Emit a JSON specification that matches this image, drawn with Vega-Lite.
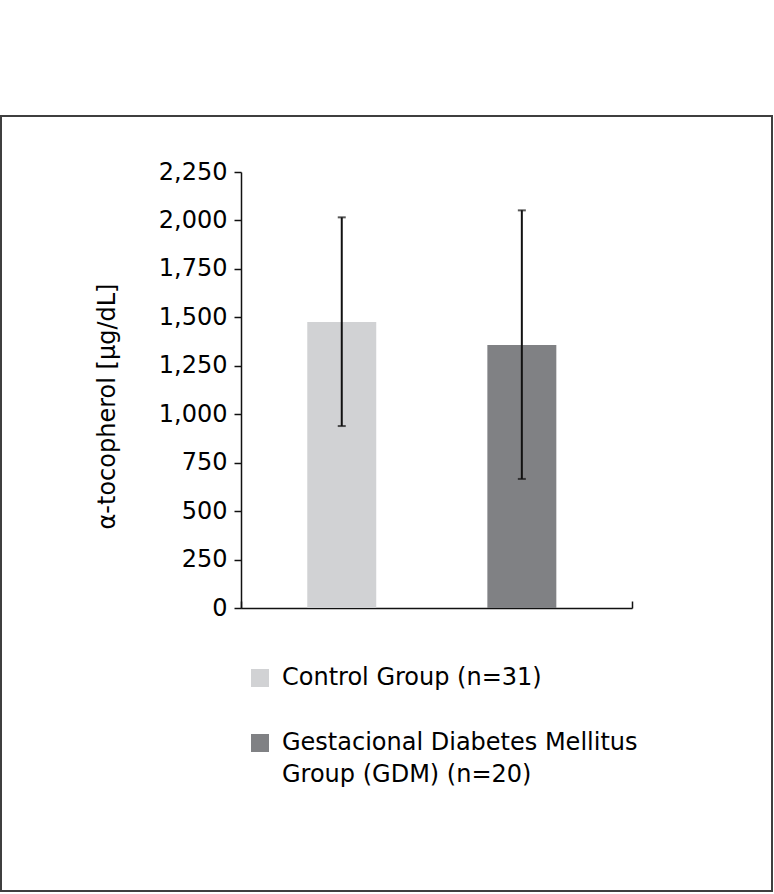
{
  "$schema": "https://vega.github.io/schema/vega-lite/v6.json",
  "autosize": {"type": "none"},
  "padding": {"left": 1, "top": 116, "right": 2, "bottom": 3},
  "width": 771,
  "height": 775,
  "background": "white",
  "config": {
    "view": {"stroke": "#3f3f3f", "strokeWidth": 2},
    "font": "DejaVu Sans",
    "axis": {"labelFont": "DejaVu Sans", "titleFont": "DejaVu Sans", "labelColor": "#000", "titleColor": "#000", "domainColor": "#111", "tickColor": "#111", "domainWidth": 1.5, "tickWidth": 1.5, "grid": false},
    "legend": {"labelFont": "DejaVu Sans"},
    "style": {"guide-label": {"lineHeight": 32}}
  },
  "data": {
    "values": [
      {"group": "Control Group (n=31)", "mean": 1476, "lower": 939, "upper": 2016},
      {"group": "Gestacional Diabetes Mellitus Group (GDM) (n=20)", "mean": 1357, "lower": 666, "upper": 2052}
    ]
  },
  "layer": [
    {
      "layer": [
        {
          "mark": {"type": "bar"},
          "encoding": {
            "x": {"field": "group", "type": "nominal", "sort": null, "axis": null,
                  "scale": {"range": [240, 621.6], "paddingInner": 0.617, "paddingOuter": 0.368}},
            "y": {"field": "mean", "type": "quantitative",
                  "scale": {"domain": [0, 2250], "range": [492, 56], "nice": false, "zero": true},
                  "axis": {"title": "α-tocopherol [µg/dL]", "values": [0, 250, 500, 750, 1000, 1250, 1500, 1750, 2000, 2250],
                           "format": ",d", "offset": -240, "tickSize": 7, "labelPadding": 7, "labelFontSize": 24,
                           "titleFontSize": 24, "titleFontWeight": "normal", "titleX": -134, "titleY": 290,
                           "titleAngle": -90, "titleAlign": "center", "titleBaseline": "middle"}},
            "color": {"field": "group", "type": "nominal", "sort": null,
                      "scale": {"range": ["#d1d2d4", "#808184"]},
                      "legend": {"title": null, "orient": "none", "legendX": 247, "legendY": 550, "padding": 0,
                                 "symbolType": "square", "symbolSize": 324, "symbolStrokeWidth": 0, "symbolOpacity": 1,
                                 "labelFontSize": 24, "labelColor": "#000", "labelLimit": 0, "labelOffset": 10,
                                 "rowPadding": 41, "labelBaseline": "middle",
                                 "labelExpr": "datum.label == 'Gestacional Diabetes Mellitus Group (GDM) (n=20)' ? ['Gestacional Diabetes Mellitus', 'Group (GDM) (n=20)'] : datum.label"}}
          }
        },
        {
          "mark": {"type": "rule", "color": "#111", "strokeWidth": 2},
          "encoding": {
            "x": {"field": "group", "type": "nominal", "sort": null},
            "y": {"field": "lower", "type": "quantitative"},
            "y2": {"field": "upper"}
          }
        },
        {
          "mark": {"type": "tick", "color": "#111", "thickness": 2, "size": 8},
          "encoding": {
            "x": {"field": "group", "type": "nominal", "sort": null},
            "y": {"field": "upper", "type": "quantitative"}
          }
        },
        {
          "mark": {"type": "tick", "color": "#111", "thickness": 2, "size": 8},
          "encoding": {
            "x": {"field": "group", "type": "nominal", "sort": null},
            "y": {"field": "lower", "type": "quantitative"}
          }
        }
      ]
    },
    {
      "mark": {"type": "point", "opacity": 0},
      "encoding": {
        "x": {"datum": 1, "type": "quantitative",
              "scale": {"domain": [0, 2], "range": [240, 631], "nice": false, "zero": false},
              "axis": {"values": [0, 2], "labels": false, "title": null, "tickSize": 7, "offset": -492, "domain": true, "ticks": true}},
        "y": {"datum": 0, "type": "quantitative"}
      }
    }
  ],
  "resolve": {"scale": {"x": "independent"}, "axis": {"x": "independent"}}
}
